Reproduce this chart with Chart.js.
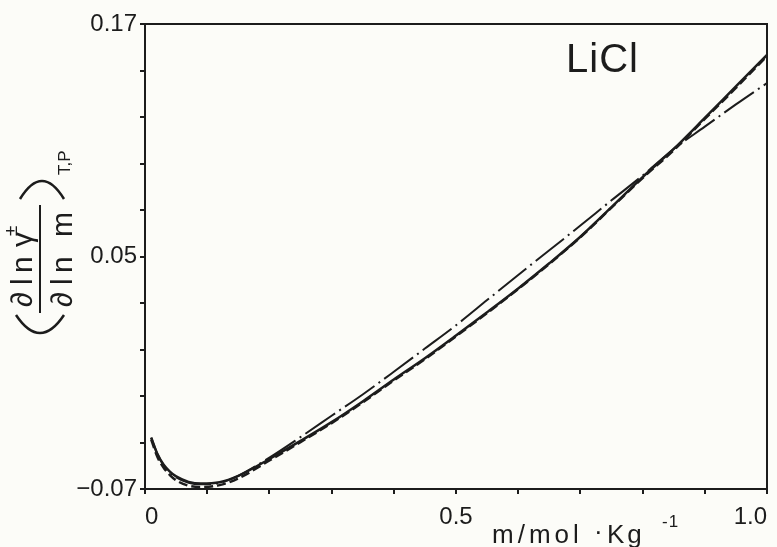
<!DOCTYPE html>
<html lang="en">
<head>
    <meta charset="UTF-8">
    <title>LiCl activity coefficient derivative</title>
    <script src="https://cdn.jsdelivr.net/npm/chart.js"></script>
    <style>
        html, body {
            margin: 0;
            padding: 0;
            background: #fcfcf8;
        }
        canvas {
            display: block;
        }
    </style>
</head>
<body>
    <canvas id="liclChart" width="777" height="547"></canvas>

    <script>
        // molality grid, mol/kg
        const molality = [0.01, 0.02, 0.03, 0.04, 0.05, 0.07, 0.09, 0.12, 0.15, 0.2, 0.25, 0.3, 0.35,
                          0.4, 0.45, 0.5, 0.55, 0.6, 0.65, 0.7, 0.75, 0.8, 0.85, 0.9, 0.95, 1.0];

        // (d ln y± / d ln m) at constant T, P
        const solidCurve = [-0.0435, -0.052, -0.0575, -0.061, -0.0635, -0.0663, -0.0672, -0.0665, -0.0632,
                            -0.0545, -0.0452, -0.0355, -0.0248, -0.0135, -0.0025, 0.0092, 0.0212, 0.0335,
                            0.0465, 0.0602, 0.0755, 0.091, 0.1055, 0.1215, 0.1378, 0.154];
        const dashedCurve = [-0.0445, -0.0535, -0.059, -0.0628, -0.0655, -0.0683, -0.069, -0.068, -0.0645,
                             -0.0553, -0.0458, -0.036, -0.0253, -0.014, -0.003, 0.0088, 0.0208, 0.0332,
                             0.0462, 0.06, 0.0752, 0.0905, 0.1048, 0.121, 0.137, 0.1535];
        const dashDotCurve = [-0.0435, -0.052, -0.0578, -0.0614, -0.064, -0.0668, -0.0676, -0.0668, -0.0632,
                              -0.0538, -0.0432, -0.0322, -0.0212, -0.0095, 0.0025, 0.0145, 0.0275, 0.0405,
                              0.0532, 0.066, 0.079, 0.0918, 0.1055, 0.117, 0.1285, 0.1395];

        const xTickValues = [0, 0.1, 0.2, 0.3, 0.4, 0.5, 0.6, 0.7, 0.8, 0.9, 1.0];
        const xTickLabels = { 0: '0', 0.5: '0.5', 1: '1.0' };
        const yTickValues = [-0.07, -0.046, -0.022, 0.002, 0.026, 0.05, 0.074, 0.098, 0.122, 0.146, 0.17];
        const yTickLabels = [[-0.07, '\u22120.07'], [0.05, '0.05'], [0.17, '0.17']];

        const ink = '#1c1c1c';
        const fontFamily = '"Liberation Sans", Arial, sans-serif';

        function pairs(ys) {
            return molality.map((m, i) => ({ x: m, y: ys[i] }));
        }

        // top and right edges of the box
        const framePlugin = {
            id: 'frame',
            afterDatasetsDraw(chart) {
                const a = chart.chartArea;
                const ctx = chart.ctx;
                ctx.save();
                ctx.strokeStyle = ink;
                ctx.lineWidth = 2;
                ctx.beginPath();
                ctx.moveTo(a.left, a.top);
                ctx.lineTo(a.right, a.top);
                ctx.lineTo(a.right, a.bottom);
                ctx.stroke();
                ctx.restore();
            }
        };

        // salt name, x title and the rotated derivative title
        const labelPlugin = {
            id: 'labels',
            afterDraw(chart) {
                const ctx = chart.ctx;
                ctx.save();
                ctx.fillStyle = ink;
                ctx.strokeStyle = ink;
                ctx.textBaseline = 'alphabetic';
                ctx.textAlign = 'left';

                ctx.font = '40px ' + fontFamily;
                ctx.letterSpacing = '1px';
                ctx.fillText('LiCl', 566, 72);

                ctx.font = '26px ' + fontFamily;
                ctx.letterSpacing = '4px';
                ctx.fillText('m/mol', 492, 543);
                ctx.letterSpacing = '0px';
                ctx.fillText('·', 594, 540);
                ctx.letterSpacing = '3px';
                ctx.fillText('Kg', 607, 543);
                ctx.font = '17px ' + fontFamily;
                ctx.letterSpacing = '1px';
                ctx.fillText('-1', 662, 527);

                // y title, written bottom-to-top
                ctx.translate(0, 547);
                ctx.rotate(-Math.PI / 2);
                ctx.letterSpacing = '0px';
                ctx.lineWidth = 2.5;
                ctx.beginPath();
                ctx.moveTo(232, 16);
                ctx.quadraticCurveTo(196, 40, 232, 64);
                ctx.moveTo(348, 20);
                ctx.quadraticCurveTo(384, 42, 348, 64);
                ctx.stroke();
                ctx.font = '30px ' + fontFamily;
                ctx.fillText('∂', 240, 32);
                ctx.fillText('l', 262, 32);
                ctx.fillText('n', 274, 32);
                ctx.fillText('γ', 300, 32);
                ctx.fillText('∂', 240, 72);
                ctx.fillText('l', 262, 72);
                ctx.fillText('n', 274, 72);
                ctx.fillText('m', 310, 72);
                ctx.font = '19px ' + fontFamily;
                ctx.fillText('±', 311, 17);
                ctx.font = '17px ' + fontFamily;
                ctx.fillText('T,P', 372, 70);
                ctx.fillRect(234, 39, 108, 2);
                ctx.restore();
            }
        };

        const ctx = document.getElementById('liclChart').getContext('2d');
        new Chart(ctx, {
            type: 'line',
            data: {
                datasets: [{
                    label: 'solid',
                    data: pairs(solidCurve),
                    borderColor: ink,
                    borderWidth: 2.5,
                    pointRadius: 0,
                    cubicInterpolationMode: 'monotone'
                }, {
                    label: 'dashed',
                    data: pairs(dashedCurve),
                    borderColor: ink,
                    borderWidth: 2.5,
                    borderDash: [9, 4],
                    pointRadius: 0,
                    cubicInterpolationMode: 'monotone'
                }, {
                    label: 'dash-dot',
                    data: pairs(dashDotCurve),
                    borderColor: ink,
                    borderWidth: 2,
                    borderDash: [36, 5, 2, 5],
                    pointRadius: 0,
                    cubicInterpolationMode: 'monotone'
                }]
            },
            options: {
                responsive: false,
                animation: false,
                layout: { padding: { top: 24, right: 10, left: 0, bottom: 0 } },
                plugins: {
                    legend: { display: false },
                    tooltip: { enabled: false }
                },
                scales: {
                    x: {
                        type: 'linear',
                        min: 0,
                        max: 1,
                        grid: { drawOnChartArea: false, drawTicks: true, tickLength: 5, color: ink, lineWidth: 2 },
                        border: { display: true, color: ink, width: 2 },
                        ticks: {
                            color: ink,
                            font: { family: fontFamily, size: 24 },
                            padding: 9,
                            maxRotation: 0,
                            autoSkip: false,
                            align: 'inner',
                            callback: (v) => xTickLabels[Math.round(v * 10) / 10] || ''
                        },
                        afterBuildTicks: (scale) => { scale.ticks = xTickValues.map(v => ({ value: v })); },
                        afterFit: (scale) => {
                            scale.height = 58;
                            scale.paddingLeft = 0;
                            scale.paddingRight = 0;
                        }
                    },
                    y: {
                        type: 'linear',
                        min: -0.07,
                        max: 0.17,
                        grid: { drawOnChartArea: false, drawTicks: true, tickLength: 5, color: ink, lineWidth: 2 },
                        border: { display: true, color: ink, width: 2 },
                        ticks: {
                            color: ink,
                            font: { family: fontFamily, size: 24 },
                            padding: 3,
                            autoSkip: false,
                            callback: (v) => {
                                const hit = yTickLabels.find(t => Math.abs(t[0] - v) < 1e-6);
                                return hit ? hit[1] : '';
                            }
                        },
                        afterBuildTicks: (scale) => { scale.ticks = yTickValues.map(v => ({ value: v })); },
                        afterFit: (scale) => {
                            scale.width = 145;
                            scale.paddingTop = 0;
                            scale.paddingBottom = 0;
                        }
                    }
                }
            },
            plugins: [framePlugin, labelPlugin]
        });
    </script>
</body>
</html>
